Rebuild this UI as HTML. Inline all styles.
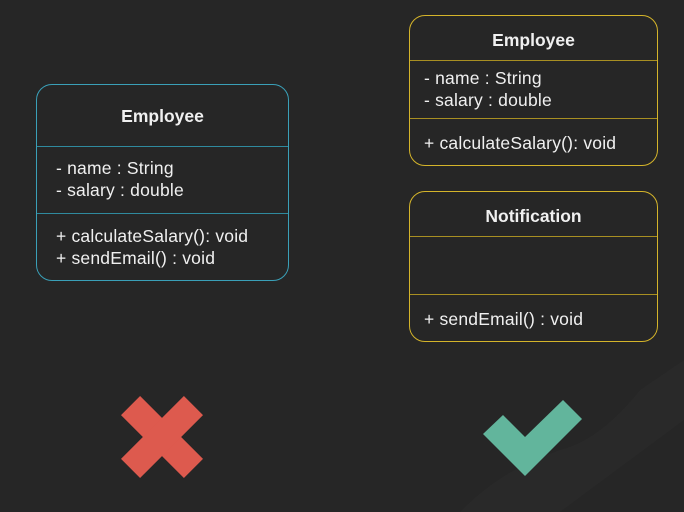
<!DOCTYPE html>
<html><head><style>
body{margin:0;width:684px;height:512px;background:#262626;overflow:hidden;position:relative;font-family:"Liberation Sans",sans-serif;color:#f0f0f0}
.box{position:absolute;box-sizing:border-box;border:1.5px solid;border-radius:16px}
.t{position:absolute;left:0;right:0;text-align:center;font-size:17.5px;font-weight:bold}
.l{position:absolute;height:0;left:0;right:0;border-top:1.5px solid}
.txt{position:absolute;left:19px;font-size:17.5px;line-height:22px;white-space:pre;letter-spacing:0.2px}
</style></head><body>
<svg width="684" height="512" style="position:absolute;left:0;top:0">
<path d="M560 512 L684 420 L684 360 L640 390 Q600 440 560 450 Q500 470 460 512Z" fill="#292929"/>
<g transform="translate(162,437) rotate(45)" fill="#dd5a4e">
<rect x="-44.5" y="-13.5" width="89" height="27"/>
<rect x="-13.5" y="-44.5" width="27" height="89"/>
</g>
<polygon points="483,434 503,415 525,437 563,400 582,419 525,476" fill="#62b59c"/>
</svg>
<div class="box" style="left:36px;top:84px;width:253px;height:197px;border-color:#3aa0b8">
<div class="t" style="top:21px">Employee</div>
<div class="l" style="top:61px;border-color:#2f8a9e"></div>
<div class="txt" style="top:72px">- name : String
- salary : double</div>
<div class="l" style="top:128px;border-color:#2f8a9e"></div>
<div class="txt" style="top:140px">+ calculateSalary(): void
+ sendEmail() : void</div>
</div>
<div class="box" style="left:409px;top:15px;width:249px;height:151px;border-color:#d4b42a">
<div class="t" style="top:14px">Employee</div>
<div class="l" style="top:44px;border-color:#a88f22"></div>
<div class="txt" style="top:51px;left:14px">- name : String
- salary : double</div>
<div class="l" style="top:102px;border-color:#a88f22"></div>
<div class="txt" style="top:116px;left:14px">+ calculateSalary(): void</div>
</div>
<div class="box" style="left:409px;top:191px;width:249px;height:151px;border-color:#d4b42a">
<div class="t" style="top:14px">Notification</div>
<div class="l" style="top:44px;border-color:#a88f22"></div>
<div class="l" style="top:102px;border-color:#a88f22"></div>
<div class="txt" style="top:116px;left:14px">+ sendEmail() : void</div>
</div>
</body></html>
